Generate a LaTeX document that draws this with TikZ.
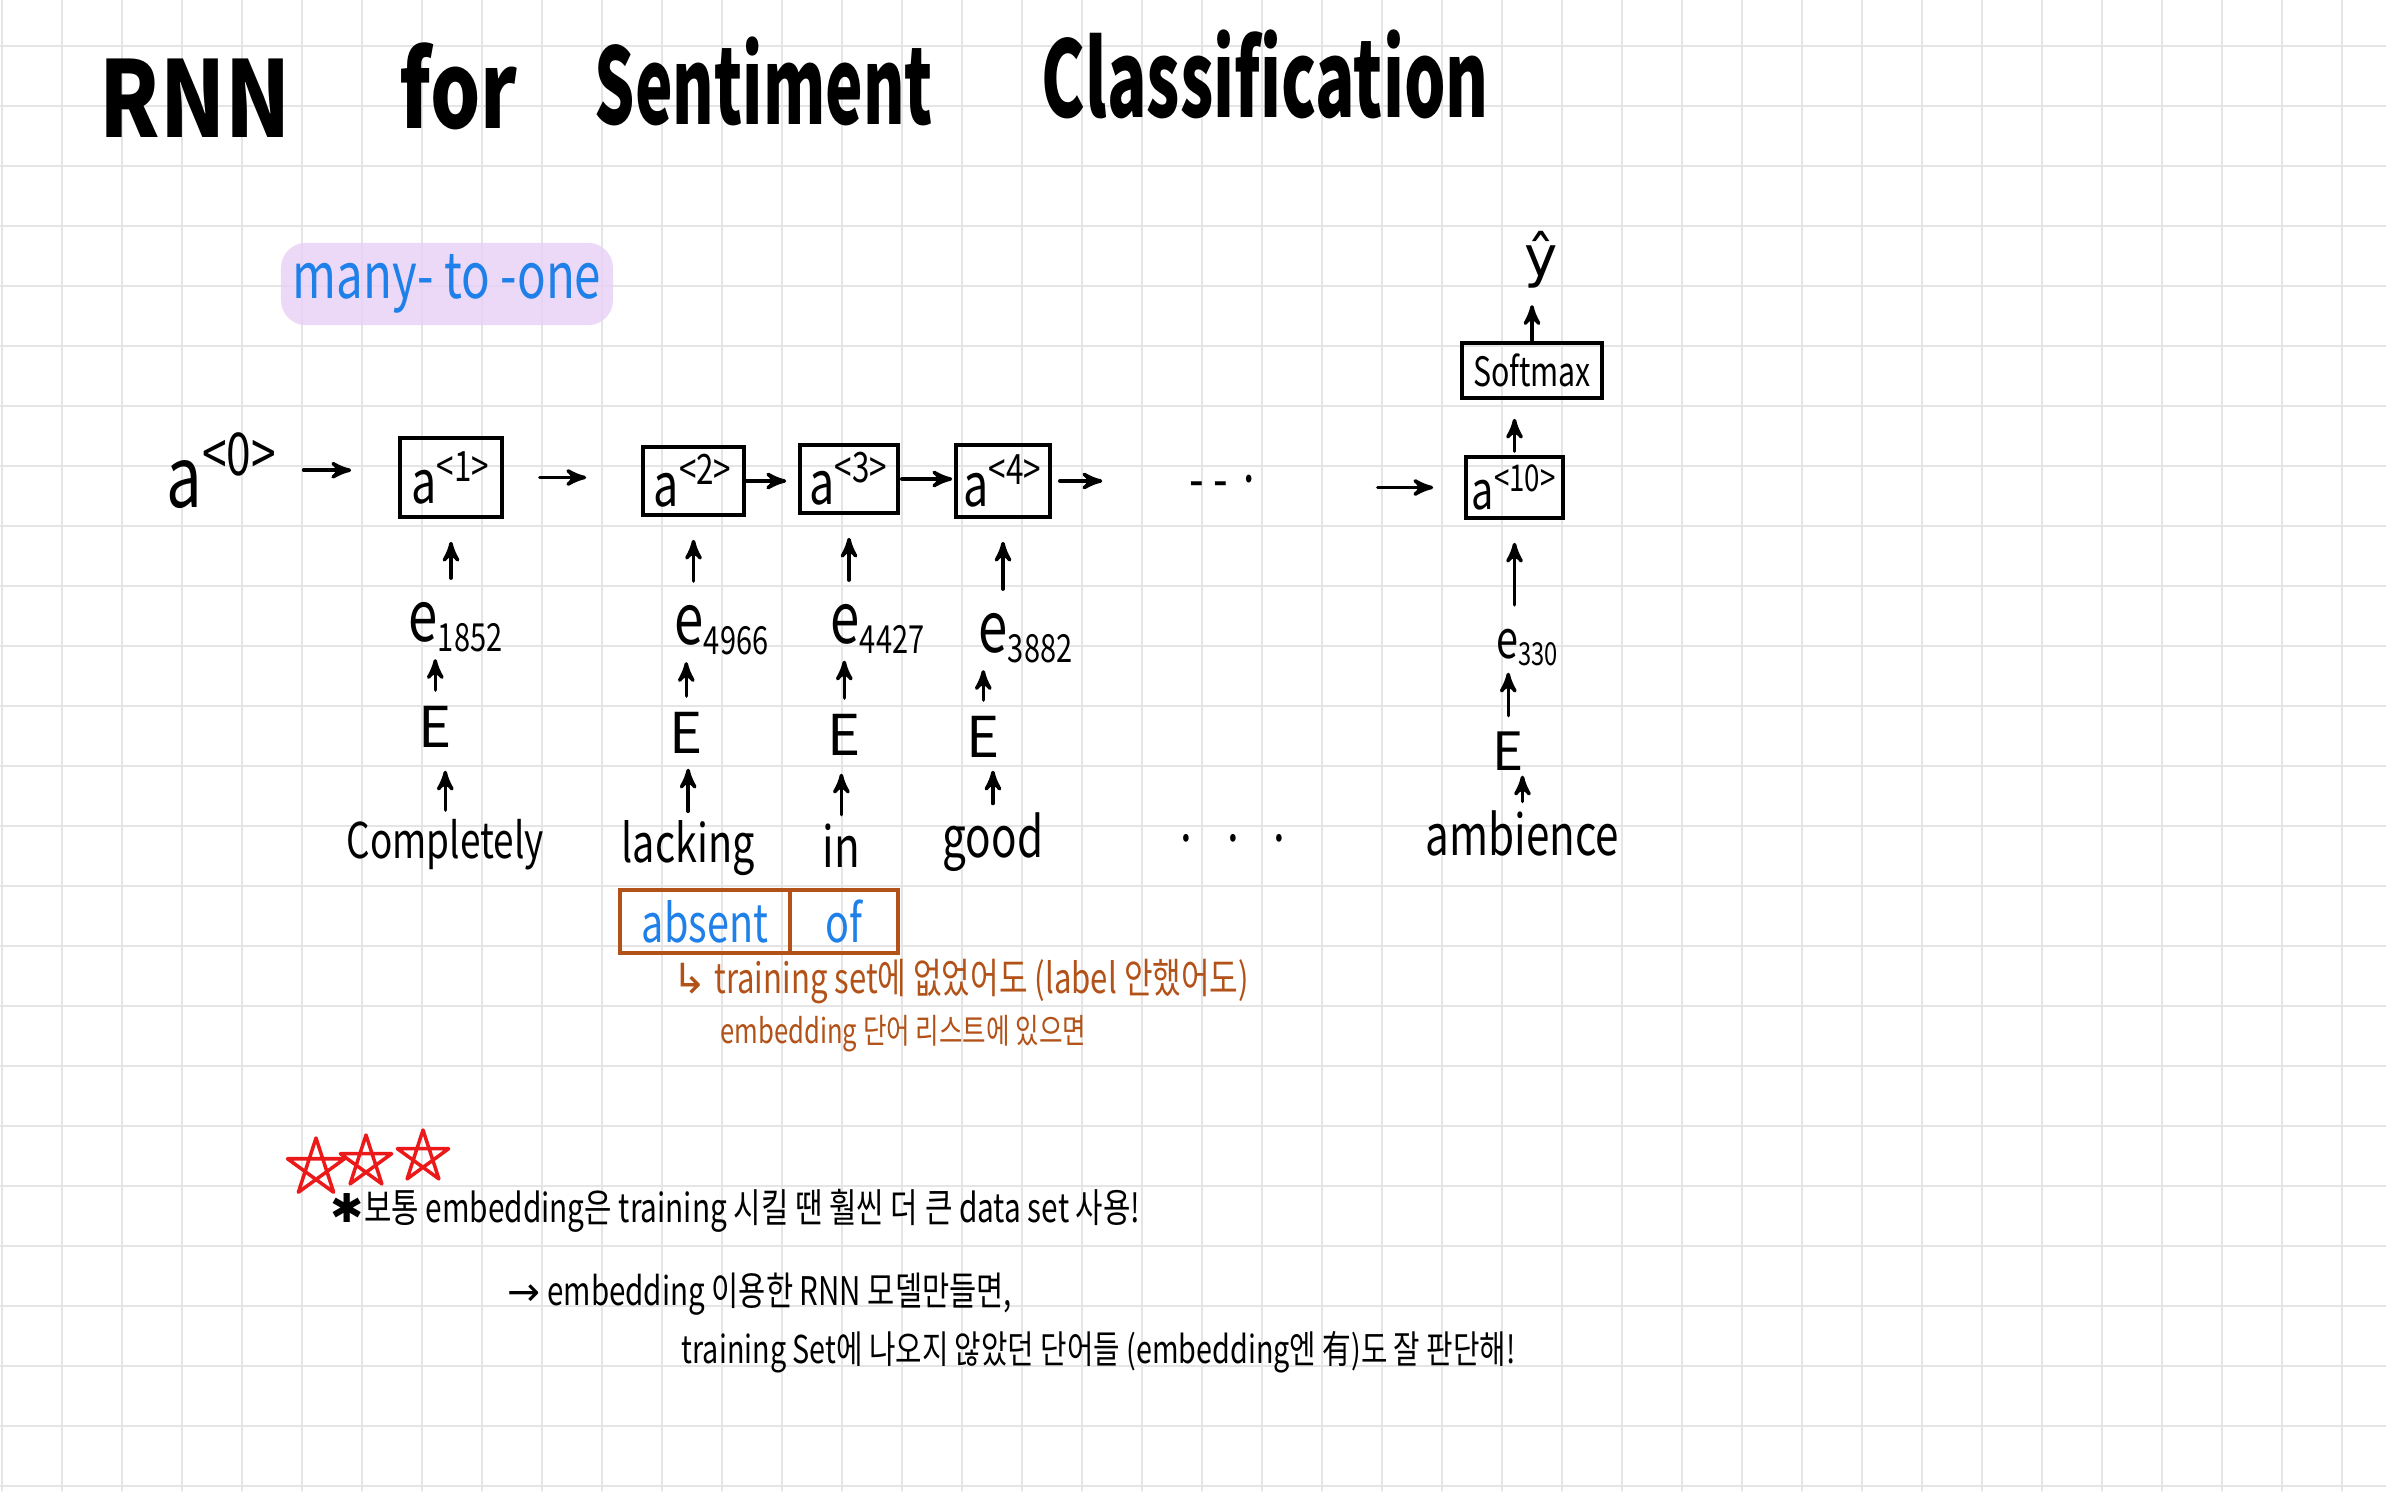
\documentclass[tikz,border=0pt]{standalone}
\usepackage{fontspec}
\setmainfont{Noto Sans CJK KR}
\newfontfamily\hand[FakeStretch=0.75]{Noto Sans CJK KR}
\newfontfamily\symfont{DejaVu Sans}
\newcommand\handsize[1]{\fontsize{#1}{#1}\selectfont}
\usepackage{tikz}
\usetikzlibrary{arrows,positioning}
\definecolor{gridgray}{RGB}{229,229,229}
\definecolor{inkblue}{RGB}{30,128,232}
\definecolor{marker}{RGB}{232,208,246}
\definecolor{rust}{RGB}{178,82,24}
\definecolor{starred}{RGB}{235,25,25}
\tikzset{
    %Define standard arrow tip
    >=stealth',
    %Define style for the paper grid
    gridline/.style={
           draw=gridgray,
           line width=0.5pt,
           },
    %Define style for boxes
    cell/.style={
           rectangle,
           draw=black, line width=1pt,
           inner sep=0pt,
           font=\hand\handsize{17},
           text centered,
           },
    slot/.style={
           rectangle,
           draw=rust, line width=1pt,
           inner sep=0pt, outer sep=0pt,
           minimum height=0.63cm,
           font=\hand\handsize{15},
           text=inkblue,
           text centered,
           },
    %Define style for plain labels
    txt/.style={
           inner sep=0pt,
           anchor=base west,
           font=\hand\handsize{16},
           },
    titleword/.style={
           inner sep=0pt,
           anchor=base west,
           font=\hand\bfseries\handsize{30},
           },
    note/.style={
           inner sep=0pt,
           anchor=base west,
           font=\hand\handsize{11.5},
           },
    tag/.style={
           rectangle,
           rounded corners=0.25cm,
           fill=marker, fill opacity=0.8, text opacity=1,
           minimum width=3.25cm,
           minimum height=0.55cm,
           text=inkblue,
           font=\hand\handsize{18},
           },
    % Define arrow style
    feed/.style={
           ->,
           line width=1pt,
           shorten <=0.12cm,
           shorten >=0.2cm,},
    starline/.style={
           draw=starred,
           line width=1pt,
           line join=round,}
}
\newcommand\idx[1]{\textsubscript{\handsize{11}#1}}
\begin{document}
\begin{tikzpicture}[x=0.01cm, y=-0.01cm, line cap=round]

 %paper
 \fill[white] (0,0) rectangle (2386,1491);
 \useasboundingbox (0,0) rectangle (2386,1491);
 \foreach \i in {0,...,39}
   \draw[gridline] ({1.7+60*\i},0) -- ({1.7+60*\i},1491);
 \foreach \j in {0,...,24}
   \draw[gridline] (0,{46+60*\j}) -- (2386,{46+60*\j});

 %title
 \node[titleword] (trnn) at (99,137) {\addfontfeatures{FakeStretch=0.81}RNN};
 \node[titleword] (tfor) at (399,129) {for};
 \node[titleword] (tsent) at (594,125) {\addfontfeatures{FakeStretch=0.6}Sentiment};
 \node[titleword] (tclass) at (1041,117) {\addfontfeatures{FakeStretch=0.62}Classification};
 \node[tag] (manyone) at (447,284) {many- to -one};

 %nodes
 \node[txt, font=\hand\handsize{24}] (a0) at (166,507) {a\textsuperscript{<0>}};
 \node[cell, minimum width=1.02cm, minimum height=0.79cm] (a1) at (451,477.5) {a\textsuperscript{<1>}};
 \node[cell, minimum width=1.01cm, minimum height=0.68cm] (a2) at (693.5,481) {a\textsuperscript{<2>}};
 \node[cell, minimum width=0.98cm, minimum height=0.68cm] (a3) at (849,479) {a\textsuperscript{<3>}};
 \node[cell, minimum width=0.94cm, minimum height=0.72cm] (a4) at (1003,481) {a\textsuperscript{<4>}};
 \node[txt, anchor=center] (hdots) at (1225,487) {- - ·};
 \node[cell, minimum width=0.97cm, minimum height=0.61cm, font=\hand\handsize{15}] (a10) at (1514.5,487.5) {a\textsuperscript{<10>}};
 \node[cell, minimum width=1.4cm, minimum height=0.55cm, font=\hand\handsize{11.5}] (soft) at (1532,370.5) {Softmax};
 \node[txt, anchor=center, font=\symfont\handsize{16}] (yhat) at (1541,260) {ŷ};

 \node[txt, font=\hand\handsize{20}] (emb1) at (408,641) {e\idx{1852}};
 \node[txt, font=\hand\handsize{20}] (emb2) at (674,644) {e\idx{4966}};
 \node[txt, font=\hand\handsize{20}] (emb3) at (830,643) {e\idx{4427}};
 \node[txt, font=\hand\handsize{20}] (emb4) at (978,652) {e\idx{3882}};
 \node[txt, font=\hand\handsize{15}] (emb10) at (1496,658) {e\textsubscript{\handsize{9}330}};

 \node[txt, font=\handsize{16}] (E1) at (418,747) {E};
 \node[txt, font=\handsize{16}] (E2) at (669,753) {E};
 \node[txt, font=\handsize{16}] (E3) at (827,755) {E};
 \node[txt, font=\handsize{16}] (E4) at (966,757) {E};
 \node[txt, font=\handsize{15}] (E10) at (1492,770) {E};

 \node[txt, font=\hand\handsize{14}] (word1) at (346,858) {Completely};
 \node[txt, font=\hand\handsize{15}] (word2) at (621,862) {lacking};
 \node[txt] (word3) at (822,867) {in};
 \node[txt] (word4) at (942,857) {good};
 \node[txt, anchor=center] (bdots) at (1233,838) {.\hspace{0.35cm}.\hspace{0.35cm}.};
 \node[txt] (word10) at (1425,855) {ambience};

 %unseen words
 \node[slot, minimum width=1.7cm] (absent) at (705,921.5) {absent};
 \node[slot, minimum width=1.08cm, right=0cm of absent] (of) {of};
 \node[note, text=rust, font=\hand\handsize{11.8}] (hint1) at (672,993) {{\symfont ↳} training set에 없었어도 (label 안했어도)};
 \node[note, text=rust, font=\hand\handsize{9.7}] (hint2) at (720,1043) {embedding 단어 리스트에 있으면};

 %remarks
 \foreach \sx/\sy/\sr in {316/1168/30, 366/1162/27, 423/1157/27}
   \draw[starline] (\sx,\sy) +(-90:\sr) -- +(54:\sr) -- +(198:\sr) -- +(342:\sr) -- +(126:\sr) -- cycle;
 \node[note, font=\hand\handsize{11.3}] (tip1) at (330,1222) {{\symfont ✱}보통 embedding은 training 시킬 땐 훨씬 더 큰 data set 사용!};
 \node[note, font=\hand\handsize{11.2}] (tip2) at (507,1305) {{\symfont →} embedding 이용한 RNN 모델만들면,};
 \node[note, font=\hand\handsize{10.9}] (tip3) at (681,1363) {training Set에 나오지 않았던 단어들 (embedding엔 有)도 잘 판단해!};

 %edges
 \draw[feed, shorten <=0.25cm, shorten >=0.47cm] (a0.east) -- (a0.east -| a1.west);
 \draw[feed, shorten <=0.36cm, shorten >=0.55cm] (a1.east) -- (a1.east -| a2.west);
 \draw[feed, shorten <=0cm, shorten >=0.12cm] (a2.east) -- (a2.east -| a3.west);
 \draw[feed, shorten <=0.02cm, shorten >=0.02cm] (a3.east) -- (a3.east -| a4.west);
 \draw[feed, shorten <=0.08cm, shorten >=0.86cm] (a4.east) -- (a4.east -| hdots.west);
 \draw[feed, shorten <=1.16cm, shorten >=0.31cm] (a10.west -| hdots.east) -- (a10.west);
 \foreach \c/\gap in {1/0.23, 2/0.15, 3/0.18, 4/0.13, 10/0.05} {
   \draw[feed, shorten <=0.08cm, shorten >=\gap cm] (word\c.north) -- (word\c.north |- E\c.south);
   \draw[feed, shorten <=0.15cm, shorten >=0.06cm] (E\c.north) -- (E\c.north |- emb\c.south);
   \draw[feed, shorten <=0.23cm, shorten >=0.23cm] (emb\c.north -| a\c.south) -- (a\c.south);
 }
 \draw[feed, shorten <=0.04cm, shorten >=0.19cm] (a10.north) -- (a10.north |- soft.south);
 \draw[feed, shorten <=0.01cm, shorten >=0.16cm] (soft.north) -- (soft.north |- yhat.south);

\end{tikzpicture}
\end{document}
